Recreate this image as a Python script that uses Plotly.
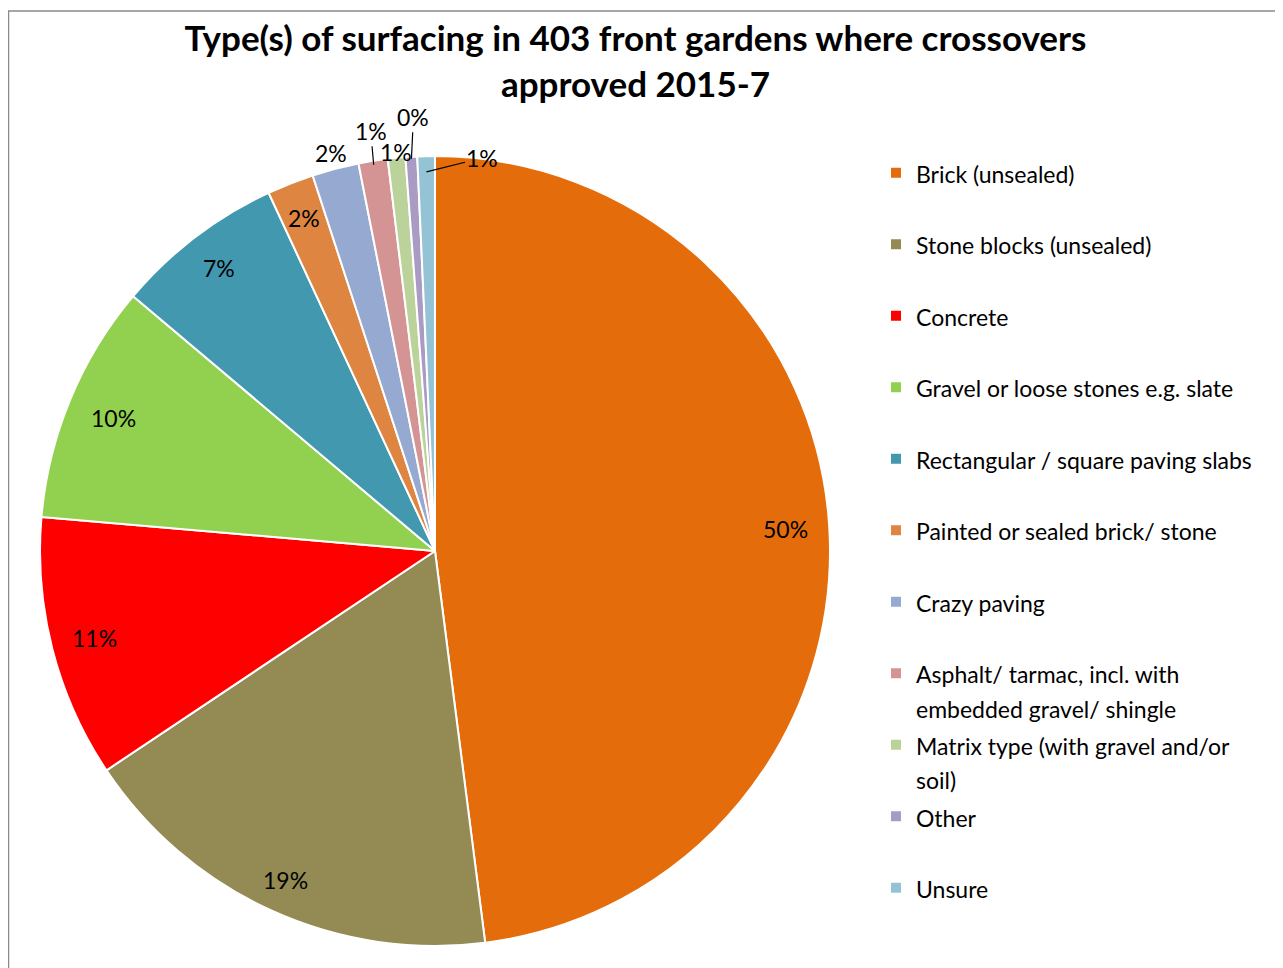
import numpy as np
import plotly.graph_objects as go

# ---------------- data ----------------
categories = [
    "Brick (unsealed)",
    "Stone blocks (unsealed)",
    "Concrete",
    "Gravel or loose stones e.g. slate",
    "Rectangular / square paving slabs",
    "Painted or sealed brick/ stone",
    "Crazy paving",
    "Asphalt/ tarmac, incl. with<br>embedded gravel/ shingle",
    "Matrix type (with gravel and/or<br>soil)",
    "Other",
    "Unsure",
]
counts = [201, 74, 45, 41, 29, 8, 8, 5, 3, 2, 3]
pct_labels = ["50%", "19%", "11%", "10%", "7%", "2%", "2%", "1%", "1%", "0%", "1%"]

colors = ["#E46C0A", "#948A54", "#FF0000", "#92D050", "#4198AF", "#DD8541",
          "#95A9D1", "#D49494", "#BBD39B", "#A99BC3", "#93C3D5"]

# ---------------- layout constants ----------------
W, H = 1283, 968
CX, CY, R = 427, 543, 395          # pie centre / radius in pixels (figure coords)
FONT = "Lato"

# label styles per slice: (radius factor, arrow dx, arrow dy) ; None arrow = plain text
label_style = [
    (0.89, None, None), (0.915, None, None), (0.89, None, None), (0.88, None, None),
    (0.90, None, None), (0.905, None, None), (1.04, None, None),
    (0.99, -3, -34), (1.015, None, None), (0.995, 2, -42), (0.96, 56, -14),
]

# legend labels: pad to two lines so every entry has the same height
leg_size = 23
leg_labels = []
for c in categories:
    lines = c.split("<br>")
    if len(lines) == 1:
        lines.append("\u00a0")
    leg_labels.append("<br>".join(
        "<span style='font-size:%dpx'>%s</span>" % (leg_size, l) for l in lines))

fig = go.Figure(go.Pie(
    labels=leg_labels,
    values=counts,
    sort=False,
    direction="clockwise",
    rotation=0,
    marker=dict(colors=colors, line=dict(color="white", width=2)),
    textinfo="none",
    hoverinfo="skip",
    domain=dict(x=[(CX - R) / W, (CX + R) / W], y=[1 - (CY + R) / H, 1 - (CY - R) / H]),
))

# ---------------- percentage labels from the data ----------------
vals = np.array(counts, dtype=float)
cum = np.cumsum(vals)
mid = 2 * np.pi * (cum - vals / 2) / vals.sum()
annotations = []
for ang, txt, (rf, dx, dy) in zip(mid, pct_labels, label_style):
    px = CX + rf * R * np.sin(ang)
    py = CY - rf * R * np.cos(ang)
    a = dict(x=px / W, y=1 - py / H, xref="paper", yref="paper", text=txt,
             font=dict(family=FONT, size=23, color="black"))
    if dx is None:
        a.update(showarrow=False, xanchor="center", yanchor="middle")
    else:
        a.update(showarrow=True, ax=dx, ay=dy, arrowhead=0, arrowwidth=1.2,
                 arrowcolor="black", standoff=0)
    annotations.append(a)

fig.update_layout(
    width=W, height=H, autosize=False,
    margin=dict(l=0, r=0, t=0, b=0),
    paper_bgcolor="white", plot_bgcolor="white",
    title=dict(
        text="<b>Type(s) of surfacing in 403 front gardens where crossovers<br>"
             "approved 2015-7</b>",
        x=627.5 / W, xanchor="center", y=1 - 43 / H, yanchor="top",
        font=dict(family=FONT, size=35, color="black"),
    ),
    legend=dict(
        x=868 / W, xanchor="left", y=1 - 141 / H, yanchor="top",
        valign="top",
        font=dict(family=FONT, size=26.35, color="black"),
        bgcolor="rgba(0,0,0,0)",
    ),
    annotations=annotations,
    shapes=[dict(type="rect", xref="paper", yref="paper",
                 x0=0.5 / W, x1=1.02, y0=-0.02, y1=1 - 3 / H,
                 line=dict(color="#8a8a8a", width=1.5), layer="below")],
)

fig.write_html("out.html")
